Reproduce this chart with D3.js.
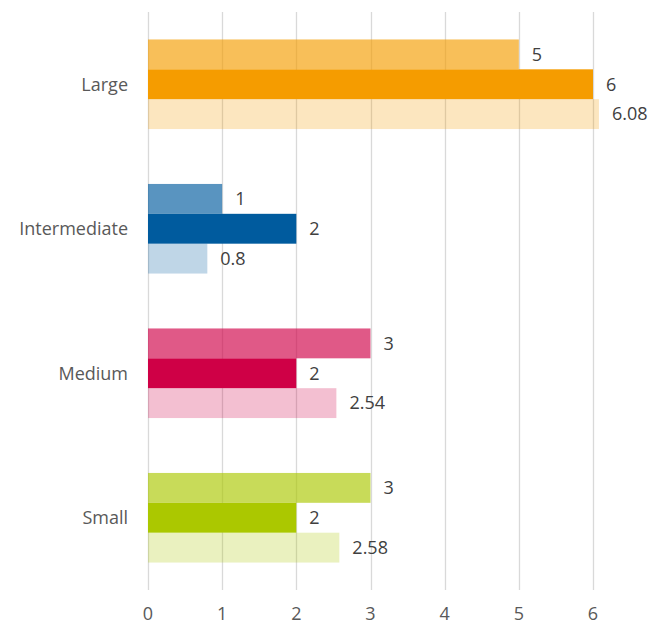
<!DOCTYPE html>
<html>
<head>
<meta charset="utf-8">
<script src="https://cdn.jsdelivr.net/npm/d3@7"></script>
<style>
  body { margin: 0; background: #fff; }
  text { font-family: "Open Sans", sans-serif; }
</style>
</head>
<body>
<div id="chart"></div>
<script>
// Categories, top to bottom
const categories = ["Large", "Intermediate", "Medium", "Small"];
// Three bars per category (top, middle, bottom)
const seriesA = [5, 1, 3, 3];
const seriesB = [6, 2, 2, 2];
const seriesC = [6.08, 0.8, 2.54, 2.58];
const valueLabels = [
  ["5", "6", "6.08"],
  ["1", "2", "0.8"],
  ["3", "2", "2.54"],
  ["3", "2", "2.58"]
];
const xTicks = [0, 1, 2, 3, 4, 5, 6];
// Base colour per category
const baseColors = ["#F59C00", "#005B9E", "#CF0046", "#ABC800"];
const seriesOpacity = [0.65, 1, 0.25];

const W = 659, H = 624;
const plot = { left: 148, right: 593, top: 12, bottom: 590 };

const svg = d3.select("#chart").append("svg")
    .attr("width", W)
    .attr("height", H);

const x = d3.scaleLinear().domain([0, 6]).range([plot.left, plot.right]);
const y = d3.scaleBand().domain(categories).range([plot.top, plot.bottom]).paddingInner(0.38).paddingOuter(0.19);
const ySub = d3.scaleBand().domain([0, 1, 2]).range([0, y.bandwidth()]);

// Gridlines
svg.append("g")
  .selectAll("line")
  .data(xTicks)
  .join("line")
    .attr("x1", d => Math.round(x(d)) + 0.5)
    .attr("x2", d => Math.round(x(d)) + 0.5)
    .attr("y1", plot.top)
    .attr("y2", plot.bottom)
    .attr("stroke", "#d9d9d9")
    .attr("stroke-width", 1.3);

// Bars
const rows = [];
categories.forEach((c, i) => {
  [seriesA[i], seriesB[i], seriesC[i]].forEach((v, j) => {
    rows.push({ cat: c, i: i, j: j, v: v, label: valueLabels[i][j] });
  });
});

svg.append("g")
  .selectAll("rect")
  .data(rows)
  .join("rect")
    .attr("x", x(0))
    .attr("y", d => y(d.cat) + ySub(d.j))
    .attr("width", d => x(d.v) - x(0))
    .attr("height", ySub.bandwidth())
    .attr("fill", d => baseColors[d.i])
    .attr("fill-opacity", d => seriesOpacity[d.j]);

// Value labels
svg.append("g")
  .selectAll("text")
  .data(rows)
  .join("text")
    .attr("x", d => x(d.v) + 13)
    .attr("y", d => y(d.cat) + ySub(d.j) + ySub.bandwidth() / 2)
    .attr("dy", "0.35em")
    .attr("font-size", "18px")
    .attr("fill", "#404040")
    .text(d => d.label);

// Category labels
svg.append("g")
  .selectAll("text")
  .data(categories)
  .join("text")
    .attr("x", 128)
    .attr("y", d => y(d) + y.bandwidth() / 2)
    .attr("dy", "0.35em")
    .attr("text-anchor", "end")
    .attr("font-size", "18px")
    .attr("fill", "#595959")
    .text(d => d);

// X axis tick labels
svg.append("g")
  .selectAll("text")
  .data(xTicks)
  .join("text")
    .attr("x", d => x(d))
    .attr("y", 620)
    .attr("text-anchor", "middle")
    .attr("font-size", "18px")
    .attr("fill", "#595959")
    .text(d => d);
</script>
</body>
</html>
